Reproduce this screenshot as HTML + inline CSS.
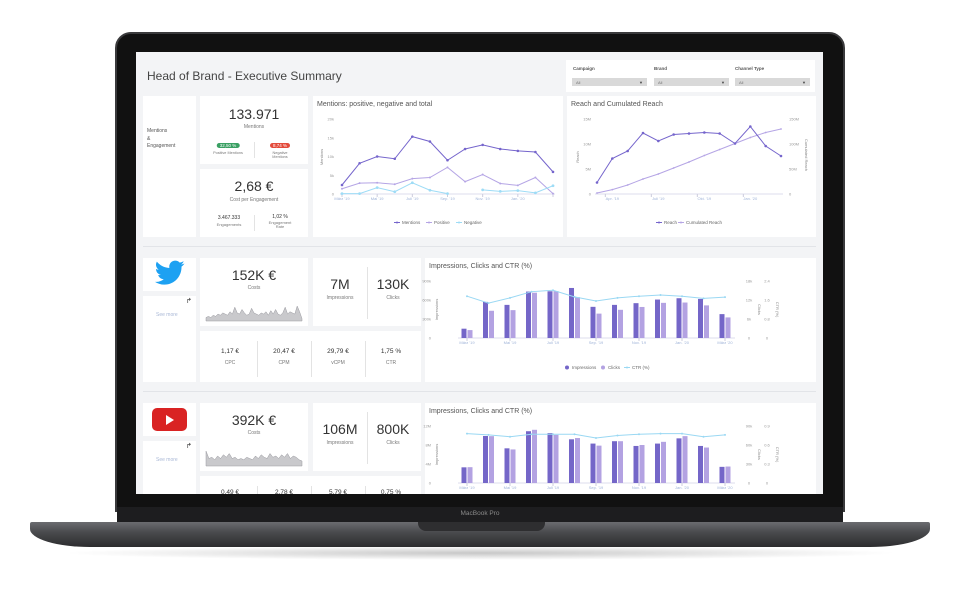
<!DOCTYPE html>
<html><head><meta charset="utf-8"><style>
*{margin:0;padding:0;box-sizing:border-box}
body{width:960px;height:589px;background:#fff;position:relative;overflow:hidden;font-family:"Liberation Sans",sans-serif;color:#333}
.abs{position:absolute}
#lid{left:115px;top:32px;width:730px;height:480px;background:#111;border-radius:16px 16px 0 0;border:2px solid #3a3a3c}
#screen{left:136px;top:52px;width:687px;height:442px;background:#f3f4f6;overflow:hidden}
.p{position:absolute;background:#fff}
.t{position:absolute;white-space:nowrap;text-align:center;transform:translateX(-50%)}
.big{font-size:14px;color:#333}
.sm{font-size:5px;color:#777}
.vd{position:absolute;width:1px;background:#e3e3e3}
</style></head><body>
<div class="abs" style="left:60px;top:546px;width:840px;height:14px;border-radius:50%;background:radial-gradient(ellipse at center,rgba(0,0,0,.22),rgba(0,0,0,0) 70%)"></div>
<div id="lid" class="abs"></div>
<div class="abs" style="left:117px;top:507px;width:726px;height:16px;background:#1d1d1f"></div>
<div class="abs" style="left:430px;top:510px;width:100px;text-align:center;font-size:6.5px;color:#8a8a8a">MacBook Pro</div>
<div class="abs" style="left:30px;top:522px;width:900px;height:25px;background:linear-gradient(#6b6c70,#4a4b4e 40%,#2c2c2e);border-radius:2px 2px 60px 60px/2px 2px 18px 18px"></div>
<div class="abs" style="left:418px;top:522px;width:127px;height:9px;background:#2e2e30;border-radius:0 0 8px 8px"></div>

<div id="screen" class="abs">
 <div class="abs" style="left:11px;top:17px;font-size:12px;color:#444">Head of Brand - Executive Summary</div>
 <div class="p" style="left:430px;top:8px;width:249px;height:32px"></div>
 <div class="abs" style="left:437px;top:14px;font-size:4.5px;font-weight:bold;color:#555">Campaign</div>
 <div class="abs" style="left:518px;top:14px;font-size:4.5px;font-weight:bold;color:#555">Brand</div>
 <div class="abs" style="left:599px;top:14px;font-size:4.5px;font-weight:bold;color:#555">Channel Type</div>
 <div class="abs" style="left:436px;top:26px;width:75px;height:8px;background:#d9d9d9;font-size:4px;color:#777;padding:2px 4px">All<span style="float:right;color:#444">▼</span></div>
 <div class="abs" style="left:518px;top:26px;width:75px;height:8px;background:#d9d9d9;font-size:4px;color:#777;padding:2px 4px">All<span style="float:right;color:#444">▼</span></div>
 <div class="abs" style="left:599px;top:26px;width:75px;height:8px;background:#d9d9d9;font-size:4px;color:#777;padding:2px 4px">All<span style="float:right;color:#444">▼</span></div>

 <div class="p" style="left:7px;top:44px;width:53px;height:141px"></div>
 <div class="abs" style="left:11px;top:76px;font-size:5px;color:#555;line-height:7.5px">Mentions<br>&amp;<br>Engagement</div>
 <div class="p" style="left:64px;top:44px;width:108px;height:68px"></div>
 <div class="t big" style="left:118px;top:54px">133.971</div>
 <div class="t sm" style="left:118px;top:72px">Mentions</div>
 <div class="t" style="left:92px;top:91px;background:#3aa063;color:#fff;font-size:4.5px;padding:0 3px;border-radius:3px">32,50 %</div>
 <div class="t sm" style="left:92px;top:99px;font-size:3.8px">Positive Mentions</div>
 <div class="vd" style="left:118px;top:90px;height:16px"></div>
 <div class="t" style="left:144px;top:91px;background:#e34b3c;color:#fff;font-size:4.5px;padding:0 3px;border-radius:3px">8,74 %</div>
 <div class="t sm" style="left:144px;top:99px;font-size:3.8px;line-height:4px">Negative<br>Mentions</div>
 <div class="p" style="left:64px;top:117px;width:108px;height:68px"></div>
 <div class="t big" style="left:118px;top:126px">2,68 €</div>
 <div class="t sm" style="left:118px;top:145px">Cost per Engagement</div>
 <div class="t" style="left:93px;top:163px;font-size:5px">3.467.333</div>
 <div class="t sm" style="left:93px;top:170px;font-size:4px">Engagements</div>
 <div class="vd" style="left:118px;top:163px;height:16px"></div>
 <div class="t" style="left:144px;top:162px;font-size:5px">1,02 %</div>
 <div class="t sm" style="left:144px;top:169px;font-size:4px;line-height:4px">Engagement<br>Rate</div>
 <div class="p" style="left:177px;top:44px;width:250px;height:141px"></div>
 <div class="abs" style="left:181px;top:49px;font-size:7px;color:#555">Mentions: positive, negative and total</div>
 <div class="p" style="left:431px;top:44px;width:249px;height:141px"></div>
 <div class="abs" style="left:435px;top:49px;font-size:7px;color:#555">Reach and Cumulated Reach</div>
 <div class="abs" style="left:7px;top:194px;width:673px;height:1px;background:#e2e4e8"></div>

 <div class="p" style="left:7px;top:206px;width:53px;height:33px"></div>
 <svg class="abs" style="left:19px;top:208px" width="30" height="26" viewBox="0 0 24 20"><path fill="#1da1f2" d="M23.6 2.4c-.9.4-1.8.6-2.8.8 1-.6 1.8-1.5 2.1-2.7-.9.6-2 1-3.1 1.2C18.9.7 17.6.1 16.2.1c-2.7 0-4.8 2.2-4.8 4.8 0 .4 0 .8.1 1.1C7.5 5.8 3.900 3.9 1.5.9c-.4.7-.7 1.600-.7 2.400 0 1.700.9 3.200 2.200 4-.8 0-1.500-.2-2.200-.6v.1c0 2.300 1.700 4.300 3.900 4.700-.4.1-.8.2-1.300.2-.3 0-.6 0-.9-.1.6 1.900 2.400 3.300 4.500 3.400-1.700 1.300-3.700 2.100-6 2.100H0c2.100 1.400 4.700 2.200 7.400 2.200 8.900 0 13.800-7.400 13.800-13.800v-.6c.9-.7 1.700-1.500 2.400-2.500z"/></svg>
 <div class="p" style="left:7px;top:244px;width:53px;height:86px"></div>
 <div class="abs" style="left:20px;top:260px;font-size:5px;color:#a9b8d6">See more</div>
 <div class="abs" style="left:50px;top:245px;font-size:7px;color:#333">↱</div>
 <div class="p" style="left:64px;top:206px;width:108px;height:68px"></div>
 <div class="t big" style="left:118px;top:215px">152K €</div>
 <div class="t sm" style="left:118px;top:233px">Costs</div>
 <div class="p" style="left:177px;top:206px;width:108px;height:68px"></div>
 <div class="t big" style="left:204px;top:224px">7M</div>
 <div class="t sm" style="left:204px;top:243px">Impressions</div>
 <div class="vd" style="left:231px;top:215px;height:52px"></div>
 <div class="t big" style="left:257px;top:224px">130K</div>
 <div class="t sm" style="left:257px;top:243px">Clicks</div>
 <div class="p" style="left:64px;top:279px;width:221px;height:51px"></div>
 <div class="t" style="left:94px;top:296px;font-size:6.5px">1,17 €</div>
 <div class="t sm" style="left:94px;top:308px">CPC</div>
 <div class="vd" style="left:121px;top:289px;height:36px"></div>
 <div class="t" style="left:148px;top:296px;font-size:6.5px">20,47 €</div>
 <div class="t sm" style="left:148px;top:308px">CPM</div>
 <div class="vd" style="left:175px;top:289px;height:36px"></div>
 <div class="t" style="left:202px;top:296px;font-size:6.5px">29,79 €</div>
 <div class="t sm" style="left:202px;top:308px">vCPM</div>
 <div class="vd" style="left:229px;top:289px;height:36px"></div>
 <div class="t" style="left:255px;top:296px;font-size:6.5px">1,75 %</div>
 <div class="t sm" style="left:255px;top:308px">CTR</div>
 <div class="p" style="left:289px;top:206px;width:391px;height:124px"></div>
 <div class="abs" style="left:293px;top:211px;font-size:7px;color:#555">Impressions, Clicks and CTR (%)</div>
 <div class="abs" style="left:7px;top:339px;width:673px;height:1px;background:#e2e4e8"></div>

 <div class="p" style="left:7px;top:351px;width:53px;height:33px"></div>
 <div class="abs" style="left:16px;top:356px;width:35px;height:23px;background:#d92323;border-radius:5px"><div style="position:absolute;left:14px;top:7px;width:0;height:0;border-left:8px solid #fff;border-top:5px solid transparent;border-bottom:5px solid transparent"></div></div>
 <div class="p" style="left:7px;top:389px;width:53px;height:60px"></div>
 <div class="abs" style="left:20px;top:405px;font-size:5px;color:#a9b8d6">See more</div>
 <div class="abs" style="left:50px;top:390px;font-size:7px;color:#333">↱</div>
 <div class="p" style="left:64px;top:351px;width:108px;height:68px"></div>
 <div class="t big" style="left:118px;top:360px">392K €</div>
 <div class="t sm" style="left:118px;top:378px">Costs</div>
 <div class="p" style="left:177px;top:351px;width:108px;height:68px"></div>
 <div class="t big" style="left:204px;top:369px">106M</div>
 <div class="t sm" style="left:204px;top:388px">Impressions</div>
 <div class="vd" style="left:231px;top:360px;height:52px"></div>
 <div class="t big" style="left:257px;top:369px">800K</div>
 <div class="t sm" style="left:257px;top:388px">Clicks</div>
 <div class="p" style="left:64px;top:424px;width:221px;height:51px"></div>
 <div class="t" style="left:94px;top:437px;font-size:6.5px">0,49 €</div>
 <div class="vd" style="left:121px;top:434px;height:36px"></div>
 <div class="t" style="left:148px;top:437px;font-size:6.5px">2,78 €</div>
 <div class="vd" style="left:175px;top:434px;height:36px"></div>
 <div class="t" style="left:202px;top:437px;font-size:6.5px">5,79 €</div>
 <div class="vd" style="left:229px;top:434px;height:36px"></div>
 <div class="t" style="left:255px;top:437px;font-size:6.5px">0,75 %</div>
 <div class="p" style="left:289px;top:351px;width:391px;height:124px"></div>
 <div class="abs" style="left:293px;top:356px;font-size:7px;color:#555">Impressions, Clicks and CTR (%)</div>

 <svg id="charts" class="abs" style="left:0;top:0" width="687" height="442"><g id="g" transform="translate(-136,-52)"></g></svg>
</div>

<script>
const mentionsTotal = [2400,8200,10000,9400,15300,14000,9000,12000,13100,12000,11500,11200,5900];
const mentionsPositive = [1400,2900,3000,2600,4100,4400,7100,3300,5200,2800,2300,4400,100];
const mentionsNegative = [100,100,1700,600,3000,1000,100,null,1100,700,900,300,2200];
const mentionsYTicks = [0,5000,10000,15000,20000];
const mentionsYLabels = ["0","5k","10k","15k","20k"];
const mentionsXLabels = ["März '19","","Mai '19","","Juli '19","","Sep. '19","","Nov. '19","","Jan. '20","",""];
const reachValues = [2.3,7.1,8.6,12.2,10.6,11.9,12.1,12.3,12.1,10.1,13.5,9.6,7.6];
const cumulatedReach = [2,8.7,18,30,40,52,64,77,89,101,113,123,130];
const reachLeftLabels = ["0","5M","10M","15M"];
const reachRightLabels = ["0","50M","100M","150M"];
const reachXLabels = ["","Apr. '19","","","Juli '19","","","Okt. '19","","","Jan. '20","",""];
const twImpressions = [147,570,523,733,738,790,492,523,550,607,628,617,377];
const twClicks = [2.5,8.6,8.8,14.3,14.8,12.9,7.7,8.9,9.8,11.1,11.2,10.3,6.5];
const twCtr = [1.76,1.47,1.69,1.95,2.01,1.73,1.56,1.69,1.76,1.81,1.76,1.67,1.72];
const twLeftLabels = ["0","300k","600k","900k"];
const twClickLabels = ["0","6k","12k","18k"];
const twCtrLabels = ["0","0.8","1.6","2.4"];
const ytImpressions = [3.3,9.9,7.3,10.9,10.5,9.2,8.3,8.8,7.8,8.3,9.4,7.8,3.4];
const ytClicks = [25,74,53,84,76,71,59,66,60,65,74,56,26];
const ytCtr = [0.78,0.76,0.73,0.77,0.77,0.77,0.71,0.75,0.77,0.78,0.78,0.73,0.76];
const ytLeftLabels = ["0","4M","8M","12M"];
const ytClickLabels = ["0","30k","60k","90k"];
const ytCtrLabels = ["0","0.3","0.6","0.9"];
const barXLabels = ["März '19","","Mai '19","","Juli '19","","Sep. '19","","Nov. '19","","Jan. '20","","März '20"];
const twSpark = [3,4,3,5,4,6,5,7,6,5,8,6,12,7,6,10,7,5,6,11,7,6,5,7,6,8,5,9,6,10,6,5,7,12,6,8,7,6,13,8,2];
const ytSpark = [12,6,7,5,8,6,9,7,10,6,7,5,6,5,7,6,5,8,6,9,7,6,10,7,8,6,9,7,10,6,8,7,5,4];

const NS="http://www.w3.org/2000/svg";
const G=document.getElementById('g');
function el(tag,attrs,parent){const e=document.createElementNS(NS,tag);for(const k in attrs)e.setAttribute(k,attrs[k]);(parent||G).appendChild(e);return e;}
function txt(x,y,s,size,fill,anchor,rot){const t=el('text',{x:x,y:y,'font-size':size,fill:fill||'#888','text-anchor':anchor||'middle','font-family':'Liberation Sans, sans-serif'});if(rot)t.setAttribute('transform','rotate('+rot+' '+x+' '+y+')');t.textContent=s;return t;}
function lin(d0,d1,r0,r1){return v=>r0+(v-d0)/(d1-d0)*(r1-r0);}

function lineSeries(vals,xs,ys,color,name,marker){
  let segs=[],cur=[];
  vals.forEach((v,i)=>{if(v===null){if(cur.length)segs.push(cur);cur=[];}else cur.push([xs(i),ys(v)]);});
  if(cur.length)segs.push(cur);
  segs.forEach(s=>{if(s.length>1){const p=el('polyline',{points:s.map(q=>q.join(',')).join(' '),fill:'none',stroke:color,'stroke-width':1});
    
    }});
  vals.forEach((v,i)=>{if(v===null)return;const c=el('circle',{cx:xs(i),cy:ys(v),r:marker,fill:color});
    
    });
}
function legend(x,y,items){let cx=x;items.forEach(it=>{
  if(it.type==='dot'){el('circle',{cx:cx+2,cy:y-1.5,r:2,fill:it.c});}else{el('line',{x1:cx-1,y1:y-1.5,x2:cx+5,y2:y-1.5,stroke:it.c,'stroke-width':1});el('circle',{cx:cx+2,cy:y-1.5,r:1,fill:it.c});}
  const t=txt(cx+7,y,it.l,4.5,'#666','start');
  
  
  cx+=it.w;});}

(function(){
 const xs=lin(0,12,342,553), ys=lin(0,20000,194,119);
 mentionsYTicks.forEach((v,i)=>txt(334,ys(v)+1.5,mentionsYLabels[i],4,'#999','end'));
 txt(323,157,'Mentions',4,'#888','middle',-90);
 el('line',{x1:340,y1:194,x2:555,y2:194,stroke:'#dde'});
 mentionsXLabels.forEach((l,i)=>{if(l){el('line',{x1:xs(i),y1:194,x2:xs(i),y2:197,stroke:'#ccd'});txt(xs(i),200,l,4,'#9fb3d8');}});
 el('line',{x1:xs(12),y1:194,x2:xs(12),y2:197,stroke:'#ccd'});
 lineSeries(mentionsPositive,xs,ys,'#b5a5e5','positive',1);
 lineSeries(mentionsNegative,xs,ys,'#9edcf6','negative',1.4);
 lineSeries(mentionsTotal,xs,ys,'#7565cc','mentions',1.3);
 legend(395,224,[{l:'Mentions',c:'#7565cc',w:32,type:'line'},{l:'Positive',c:'#b5a5e5',w:30,type:'line'},{l:'Negative',c:'#9edcf6',w:30,type:'line'}]);
})();
(function(){
 const xs=lin(0,12,597,781), ys=lin(0,15,194,119), ys2=lin(0,150,194,119);
 reachLeftLabels.forEach((l,i)=>txt(591,ys(i*5)+1.5,l,4,'#999','end'));
 reachRightLabels.forEach((l,i)=>txt(789,ys2(i*50)+1.5,l,4,'#999','start'));
 txt(579,157,'Reach',4,'#888','middle',-90);
 txt(805,155,'Cumulated Reach',4,'#888','middle',90);
 el('line',{x1:595,y1:194,x2:783,y2:194,stroke:'#dde'});
 reachXLabels.forEach((l,i)=>{if(l){el('line',{x1:xs(i)-7,y1:194,x2:xs(i)-7,y2:197,stroke:'#ccd'});txt(xs(i),200,l,4,'#9fb3d8');}});
 lineSeries(cumulatedReach,xs,ys2,'#b5a5e5','cumulated-reach',0.9);
 lineSeries(reachValues,xs,ys,'#7565cc','reach',1.3);
 legend(657,224,[{l:'Reach',c:'#7565cc',w:22,type:'line'},{l:'Cumulated Reach',c:'#b5a5e5',w:40,type:'line'}]);
})();
function barChart(pref,imp,clk,ctr,impMax,clkMax,ctrMax,L1,L2,L3,y0,y1,legendY){
 const xs=lin(0,12,467,725), yi=lin(0,impMax,y0,y1), yc=lin(0,clkMax,y0,y1), yr=lin(0,ctrMax,y0,y1);
 for(let k=0;k<4;k++){
  txt(431,yi(impMax*k/3)+1.5,L1[k],4,'#999','end');
  txt(749,yi(impMax*k/3)+1.5,L2[k],4,'#999','middle');
  txt(767,yi(impMax*k/3)+1.5,L3[k],4,'#999','middle');
 }
 txt(438,(y0+y1)/2,'Impressions',4,'#888','middle',-90);
 txt(758,(y0+y1)/2,'Clicks',4,'#888','middle',90);
 txt(776,(y0+y1)/2,'CTR (%)',4,'#888','middle',90);
 el('line',{x1:458,y1:y0,x2:735,y2:y0,stroke:'#dde'});
 barXLabels.forEach((l,i)=>{if(l){el('line',{x1:xs(i),y1:y0,x2:xs(i),y2:y0+3,stroke:'#ccd'});txt(xs(i),y0+6,l,4,'#9fb3d8');}});
 imp.forEach((v,i)=>{const r=el('rect',{x:xs(i)-5.5,y:yi(v),width:5,height:y0-yi(v),fill:'#7466c8'});
  
  });
 clk.forEach((v,i)=>{const r=el('rect',{x:xs(i)+0.5,y:yc(v),width:5,height:y0-yc(v),fill:'#b3a2e2'});
  
  });
 lineSeries(ctr,xs,yr,'#9ad8f3',pref+'-ctr',1);
 if(legendY)legend(565,legendY,[{l:'Impressions',c:'#7466c8',w:36,type:'dot'},{l:'Clicks',c:'#b3a2e2',w:24,type:'dot'},{l:'CTR (%)',c:'#9ad8f3',w:30,type:'line'}]);
}
barChart('twitter',twImpressions,twClicks,twCtr,900,18,2.4,twLeftLabels,twClickLabels,twCtrLabels,338,281,369);
barChart('youtube',ytImpressions,ytClicks,ytCtr,12,90,0.9,ytLeftLabels,ytClickLabels,ytCtrLabels,483,426,null);
function spark(vals,x0,x1,yb,h,name){
 const xs=lin(0,vals.length-1,x0,x1), mx=Math.max(...vals), ys=lin(0,mx,yb,yb-h);
 const pts=vals.map((v,i)=>xs(i)+','+ys(v)).join(' ');
 const p=el('polygon',{points:x0+','+yb+' '+pts+' '+x1+','+yb,fill:'#c9c9cc',stroke:'#9a9aa0','stroke-width':0.5});
 
 
}
spark(twSpark,206,302,321,15,'twitter-costs-sparkline');
spark(ytSpark,206,302,466,15,'youtube-costs-sparkline');
</script>
</body></html>
